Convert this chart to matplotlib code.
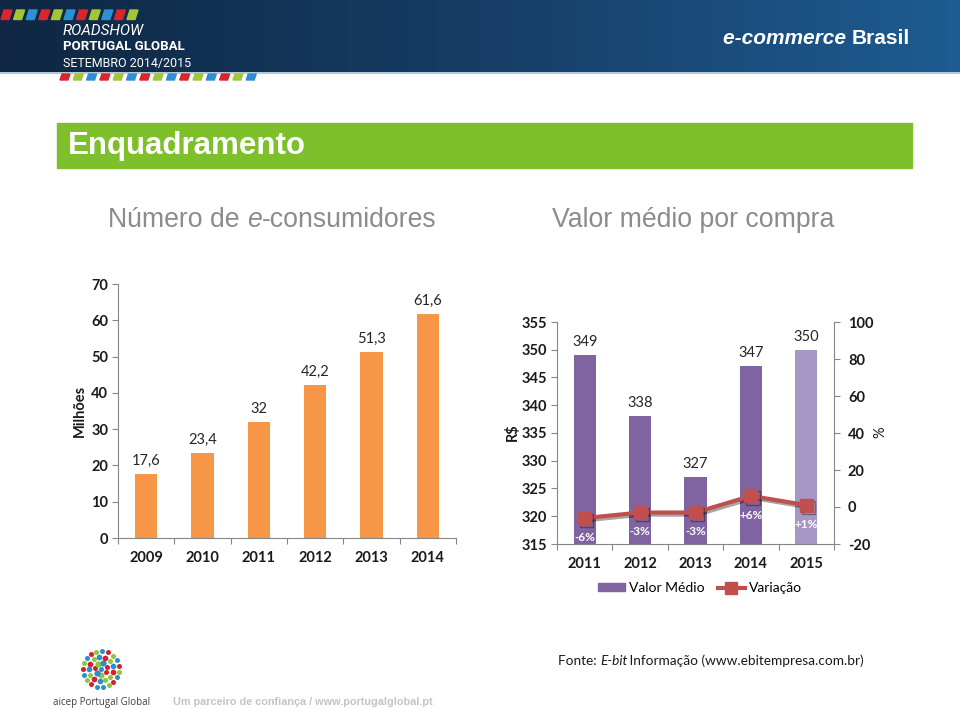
import matplotlib
matplotlib.use("Agg")
import matplotlib.pyplot as plt
import matplotlib.patheffects as pe
from matplotlib.colors import LinearSegmentedColormap
from matplotlib.lines import Line2D
from matplotlib.patches import Polygon, Rectangle, Patch
import numpy as np

# data
years_users = ['2009', '2010', '2011', '2012', '2013', '2014']
users_m = [17.6, 23.4, 32, 42.2, 51.3, 61.6]
users_txt = ['17,6', '23,4', '32', '42,2', '51,3', '61,6']

years_avg = ['2011', '2012', '2013', '2014', '2015']
avg_ticket = [349, 338, 327, 347, 350]
variation = [-6, -3, -3, 6, 1]
variation_txt = ['-6%', '-3%', '-3%', '+6%', '+1%']

W, H = 960, 709
CHART_FONT = ['Lato', 'DejaVu Sans']
TITLE_FONT = ['Liberation Sans', 'DejaVu Sans']
plt.rcParams['font.family'] = CHART_FONT
plt.rcParams['axes.unicode_minus'] = False

fig = plt.figure(figsize=(W / 100, H / 100), dpi=100)
fig.patch.set_facecolor('white')

# background axes in pixel coords
bg = fig.add_axes([0, 0, 1, 1])
bg.set_xlim(0, W)
bg.set_ylim(H, 0)
bg.axis('off')


def px(x0, y0, x1, y1):
    return [x0 / W, 1 - y1 / H, (x1 - x0) / W, (y1 - y0) / H]


def text_w(s, **kw):
    r = fig.canvas.get_renderer()
    t = bg.text(0, 0, s, **kw)
    w = t.get_window_extent(r).width
    t.remove()
    return w


def rich(x, y, parts, italic_trim=0, **kw):
    for s, style in parts:
        bg.text(x, y, s, fontstyle=style, **kw)
        x += text_w(s, fontstyle=style, **kw)
        if style == 'italic':
            x -= italic_trim


# header band
head_cmap = LinearSegmentedColormap.from_list('head', ['#0f2742', '#163d66', '#1e5c91'])
bg.imshow(np.linspace(0, 1, 256)[None, :], extent=[0, W, 72, 0], cmap=head_cmap, aspect='auto', zorder=0)
bg.plot([0, W], [72.5, 72.5], color='#a9bccd', lw=1.2, zorder=1)

stripe_cols = ['#d9262c', '#a3c639', '#2e90d2']
for i in range(11):
    x0 = 1 + i * 12.6
    bg.add_patch(Polygon([[x0 + 3, 10], [x0 + 11, 10], [x0 + 8, 19.5], [x0, 19.5]],
                         color=stripe_cols[i % 3], zorder=2))
for i in range(15):
    x0 = 60 + i * 13.3
    bg.add_patch(Polygon([[x0 + 2, 74], [x0 + 10, 74], [x0 + 8, 80], [x0, 80]],
                         color=stripe_cols[i % 3], zorder=2))

HEAD_FONT = ['Roboto', 'DejaVu Sans']
bg.text(63, 31, 'ROADSHOW', color='white', fontsize=11, fontstyle='italic',
        family=HEAD_FONT, va='center', zorder=3)
bg.text(63, 47, 'PORTUGAL GLOBAL', color='white', fontsize=9.5, fontweight='bold',
        family=HEAD_FONT, va='center', zorder=3)
bg.text(63, 63, 'SETEMBRO 2014/2015', color='white', fontsize=9,
        family=HEAD_FONT, va='center', zorder=3)

ec_kw = dict(color='white', fontsize=15, family=TITLE_FONT, fontweight='bold', va='center', zorder=3)
w_ec = text_w('e-commerce ', fontstyle='italic', **ec_kw) + text_w('Brasil', **ec_kw)
rich(910 - w_ec, 38, [('e-commerce ', 'italic'), ('Brasil', 'normal')], **ec_kw)

# green banner
bg.add_patch(Rectangle((57, 123), 855, 45, color='#7dc02c', zorder=1))
bg.text(68, 146, 'Enquadramento', color='white', fontsize=22.5, fontweight='bold',
        family=TITLE_FONT, va='center', zorder=2)

# chart titles
rich(108, 220, [('Número de ', 'normal'), ('e', 'italic'), ('-consumidores', 'normal')],
     color='#8c8c8c', fontsize=19.2, family=TITLE_FONT, va='center')
bg.text(693, 220, 'Valor médio por compra', color='#8c8c8c', fontsize=19.2,
        family=TITLE_FONT, va='center', ha='center')

spine_col = '#868686'

# left chart: e-consumers
ax1 = fig.add_axes(px(118, 284, 456, 538))
ax1.set_facecolor('none')
x1 = np.arange(len(years_users))
ax1.bar(x1, users_m, width=0.4, color='#f79646', zorder=2)
for xi, v, s in zip(x1, users_m, users_txt):
    ax1.annotate(s, (xi, v), xytext=(0, 9.5), textcoords='offset points',
                 ha='center', va='center', fontsize=10.5, color='#262626')
ax1.set_xlim(-0.5, len(years_users) - 0.5)
ax1.set_ylim(0, 70)
ax1.set_yticks(range(0, 71, 10))
ax1.set_xticks(np.arange(-0.5, len(years_users), 1))
ax1.set_xticklabels([])
ax1.set_xticks(x1, minor=True)
ax1.set_xticklabels(years_users, minor=True)

# right chart: average ticket + variation
ax2 = fig.add_axes(px(557, 322, 834, 544))
ax2.set_facecolor('none')
x2 = np.arange(len(years_avg))
bar_cols = ['#8064a2'] * (len(years_avg) - 1) + ['#a697c4']
ax2.bar(x2, avg_ticket, width=0.4, color=bar_cols, zorder=2)
for xi, v, s in zip(x2, avg_ticket, avg_ticket):
    ax2.annotate(str(s), (xi, v), xytext=(0, 9.5), textcoords='offset points',
                 ha='center', va='center', fontsize=10.5, color='#262626')
ax2.set_xlim(-0.5, len(years_avg) - 0.5)
ax2.set_ylim(315, 355)
ax2.set_yticks(range(315, 356, 5))
ax2.set_xticks(np.arange(-0.5, len(years_avg), 1))
ax2.set_xticklabels([])
ax2.set_xticks(x2, minor=True)
ax2.set_xticklabels(years_avg, minor=True)

ax3 = ax2.twinx()
ax3.set_ylim(-20, 100)
ax3.set_yticks(range(-20, 101, 20))
ax3.plot(x2, variation, color='#c0504d', lw=3, marker='s', ms=9.5, zorder=3,
         path_effects=[pe.SimpleLineShadow(offset=(1.5, -1.5), alpha=0.35), pe.Normal()])
for xi, v, s in zip(x2, variation, variation_txt):
    ax3.annotate(s, (xi, v), xytext=(0, -14), textcoords='offset points',
                 ha='center', va='center', fontsize=8.5, fontweight='bold', color='white')

for ax in (ax1, ax2, ax3):
    for sp in ax.spines.values():
        sp.set_color(spine_col)
        sp.set_linewidth(0.8)
    ax.spines['top'].set_visible(False)
    ax.tick_params(which='major', direction='out', length=4, width=0.8, color=spine_col,
                   labelsize=10.5, pad=3)
    ax.tick_params(which='minor', length=0, labelsize=10.5, pad=9)
    for lab in ax.get_xticklabels(which='both') + ax.get_yticklabels():
        lab.set_fontweight('bold')
        lab.set_color('#1a1a1a')
ax1.spines['right'].set_visible(False)
ax2.spines['right'].set_visible(False)
ax3.spines['left'].set_visible(False)
ax3.spines['bottom'].set_visible(False)
ax3.tick_params(axis='y', pad=6)

# axis titles
bg.text(80, 411, 'Milhões', rotation=90, fontsize=10.5, fontweight='bold',
        ha='center', va='center', color='#1a1a1a')
bg.text(512, 432, 'R$', rotation=90, fontsize=10.5, fontweight='bold',
        ha='center', va='center', color='#1a1a1a')
bg.text(880, 432, '%', rotation=90, fontsize=10.5,
        ha='center', va='center', color='#1a1a1a')

# legend
handles = [Patch(color='#8064a2'),
           Line2D([], [], color='#c0504d', lw=3, marker='s', ms=8)]
fig.legend(handles, ['Valor Médio', 'Variação'], loc='center', ncol=2,
           bbox_to_anchor=(700 / W, 1 - 588 / H), frameon=False, fontsize=10,
           handlelength=1.9, handleheight=0.45, handletextpad=0.3, columnspacing=1.0)

# source
src_kw = dict(fontsize=9.8, color='#1a1a1a', va='center')
rich(558, 661, [('Fonte: ', 'normal'), ('E-bit', 'italic'),
                (' Informação (www.ebitempresa.com.br)', 'normal')], italic_trim=2, **src_kw)

# footer logo
logo_cols = ['#2a8fd0', '#d2232a', '#8dc63f']
cx, cy = 101, 669
k = 0
for ring, n in [(0, 1), (6, 7), (12, 13), (18, 19)]:
    for j in range(n):
        a = 2 * np.pi * j / n + ring * 0.1
        sz = 24 - ring * 0.6 if (j + ring) % 3 else 13
        bg.scatter(cx + ring * np.cos(a), cy + ring * np.sin(a), s=sz,
                   color=logo_cols[k % 3], lw=0, zorder=3)
        k += 1

bg.text(53, 702, 'aicep Portugal Global', fontsize=7, color='#404040',
        va='center', family=['Open Sans', 'DejaVu Sans'])
bg.text(173, 702, 'Um parceiro de confiança / www.portugalglobal.pt', fontsize=7.8,
        color='#c4c4c4', fontweight='bold', va='center', family=TITLE_FONT)

fig.savefig('out.png', dpi=100, facecolor='white')
